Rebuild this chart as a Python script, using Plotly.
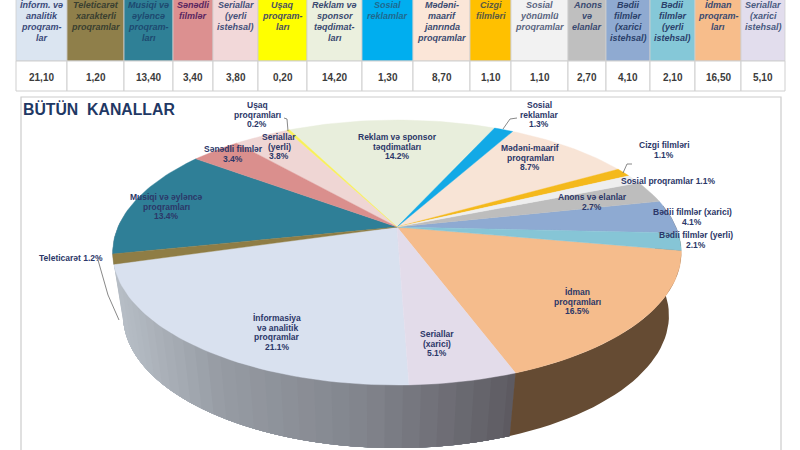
import math
import plotly.graph_objects as go

# ---------- data ----------
values = [21.1, 1.2, 13.4, 3.4, 3.8, 0.2, 14.2, 1.3, 8.7, 1.1, 1.1, 2.7, 4.1, 2.1, 16.5, 5.1]
table_values = ["21,10", "1,20", "13,40", "3,40", "3,80", "0,20", "14,20", "1,30",
                "8,70", "1,10", "1,10", "2,70", "4,10", "2,10", "16,50", "5,10"]
table_headers = [
    ["İnform. və", "analitik", "proqram-", "lar"],
    ["Teleticarət", "xarakterli", "proqramlar"],
    ["Musiqi və", "əyləncə", "proqram-", "ları"],
    ["Sənədli", "filmlər"],
    ["Seriallar", "(yerli", "istehsal)"],
    ["Uşaq", "proqram-", "ları"],
    ["Reklam və", "sponsor", "təqdimat-", "ları"],
    ["Sosial", "reklamlar"],
    ["Mədəni-", "maarif", "janrında", "proqramlar"],
    ["Cizgi", "filmləri"],
    ["Sosial", "yönümlü", "proqramlar"],
    ["Anons", "və", "elanlar"],
    ["Bədii", "filmlər", "(xarici", "istehsal)"],
    ["Bədii", "filmlər", "(yerli", "istehsal)"],
    ["İdman", "proqram-", "ları"],
    ["Seriallar", "(xarici", "istehsal)"],
]
pie_labels = [
    ["İnformasiya", "və analitik", "proqramlar", "21.1%"],
    ["Teleticarət 1.2%"],
    ["Musiqi və əyləncə", "proqramları", "13.4%"],
    ["Sənədli filmlər", "3.4%"],
    ["Seriallar", "(yerli)", "3.8%"],
    ["Uşaq", "proqramları", "0.2%"],
    ["Reklam və sponsor", "təqdimatları", "14.2%"],
    ["Sosial", "reklamlar", "1.3%"],
    ["Mədəni-maarif", "proqramları", "8.7%"],
    ["Cizgi filmləri", "1.1%"],
    ["Sosial proqramlar 1.1%"],
    ["Anons və elanlar", "2.7%"],
    ["Bədii filmlər (xarici)", "4.1%"],
    ["Bədii filmlər (yerli)", "2.1%"],
    ["İdman", "proqramları", "16.5%"],
    ["Seriallar", "(xarici)", "5.1%"],
]

# ---------- styles / layout ----------
colors = ["#d9e1ef", "#8f7d45", "#2f7f97", "#da8f8d", "#efd6d4", "#f7f05a", "#e8eedc", "#12a9e6",
          "#f8e4d6", "#f4b91c", "#eeeeee", "#bdbdbd", "#8eaad2", "#86c5d6", "#f5bc8c", "#e3dcea"]
header_fill = ["#dbe5f1", "#8f7f4a", "#2f8096", "#dc9090", "#f2d8d9", "#ffff00", "#ebf0de", "#00aeef",
               "#fbe6d8", "#ffc000", "#f2f2f2", "#bfbfbf", "#8faad1", "#85c8d8", "#f7bd8b", "#e2dded"]
header_text = ["#3a4a7a", "#3a4030", "#1d4a70", "#5a2560", "#45507a", "#4a5060", "#3a4a70", "#1f6a90",
               "#3a4a70", "#5a5a40", "#5a6580", "#3a4a70", "#2a3f6a", "#2a3f6a", "#3a4a70", "#4a5a80"]
col_edges = [16, 67, 124, 173, 213, 258, 307, 362, 413, 470, 511, 568, 606, 650, 695, 741, 785]
label_xy = [(277, 318), (71, 258), (166, 197), (233, 149), (279, 137), (257, 105), (397, 137), (539, 105),
            (530, 148), (664, 145), (668, 181), (592, 197), (692, 212), (696, 235), (577, 292), (437, 334)]
leaders = [[(98, 260), (108, 295), (119, 320)], [(284, 118), (287, 119), (288, 131)],
           [(517, 118), (510, 119), (503, 129)], [(632, 164), (627, 164), (623, 173)]]

CX, CY = 397.0, 227.0      # pie apex in plot units
A, B, K = 279.0, 127.6, 0.1926  # perspective of the tilted disc
DEPTH, SHRINK = 63.0, 0.96
START = 178.0              # clockwise degrees from the far side


def top(theta):
    t = math.radians(theta)
    d = 1 + K * math.cos(t)
    return CX + A * math.sin(t) / d, CY - B * math.cos(t) / d


def bottom(theta):
    x, y = top(theta)
    return CX + (x - CX) * SHRINK - 1, y + DEPTH


def mix(c1, c2, f):
    return "rgb(" + ",".join(str(round(a + (b - a) * f)) for a, b in zip(c1, c2)) + ")"


fig = go.Figure()
total = sum(values)
edges = [START]
for v in values:
    edges.append(edges[-1] + v * 360 / total)

# side wall: painted from both rims towards the brown/grey join, each strip overlapping the next
brown = "rgb(101,75,51)"
grey_stops = [(0.0, (183, 190, 198)), (0.25, (150, 155, 163)), (0.62, (128, 131, 139)), (1.0, (92, 89, 96))]
brown_end = edges[-2] - 360
STEP = 3.0


def wall(a0, a1, color):
    n = max(2, int((a1 - a0) / 2))
    arc = [a0 + (a1 - a0) * j / n for j in range(n + 1)]
    pts = [top(a) for a in arc] + [bottom(a) for a in reversed(arc)]
    pts.append(pts[0])
    fig.add_trace(go.Scatter(x=[p[0] for p in pts], y=[p[1] for p in pts], mode="lines", fill="toself",
                             fillcolor=color, line=dict(color=color, width=0), hoverinfo="skip",
                             showlegend=False))


th = 278.0
while th > brown_end:
    x_mid = top(th)[0]
    f = max(0.0, min(1.0, (x_mid - 114) / (513 - 114)))
    for (p1, c1), (p2, c2) in zip(grey_stops, grey_stops[1:]):
        if f <= p2:
            col = mix(c1, c2, (f - p1) / (p2 - p1))
            break
    wall(brown_end, th, col)   # every strip reaches the join, so no seams can open
    th -= STEP
wall(80.0, brown_end, brown)

# top face wedges: small ones last so that they stay visible
for i in sorted(range(len(values)), key=lambda k: -values[k]):
    v = values[i]
    a0, a1 = edges[i], edges[i + 1]
    n = max(2, int((a1 - a0) / 1.5))
    pts = [(CX, CY)] + [top(a0 + (a1 - a0) * j / n) for j in range(n + 1)] + [(CX, CY)]
    fig.add_trace(go.Scatter(x=[p[0] for p in pts], y=[p[1] for p in pts], mode="lines", fill="toself",
                             fillcolor=colors[i], line=dict(color=colors[i], width=0.4),
                             name=pie_labels[i][0], hovertemplate=f"{v}%<extra></extra>", showlegend=False))

shapes = []
ann = []


def text(x, y, s, size, color, bold=True, italic=False, anchor="center"):
    if bold:
        s = f"<b>{s}</b>"
    if italic:
        s = f"<i>{s}</i>"
    ann.append(dict(x=x, y=y, xref="x", yref="y", text=s, showarrow=False, xanchor=anchor, yanchor="middle",
                    font=dict(family="Liberation Sans", size=size, color=color), borderpad=0))


# table
BORDER = "#cfcfcf"
for i in range(len(values)):
    x0, x1 = col_edges[i], col_edges[i + 1]
    shapes.append(dict(type="rect", x0=x0, x1=x1, y0=-3, y1=61, xref="x", yref="y", fillcolor=header_fill[i],
                       line=dict(color=BORDER, width=0.8), layer="below"))
    shapes.append(dict(type="rect", x0=x0, x1=x1, y0=61, y1=91, xref="x", yref="y", fillcolor="white",
                       line=dict(color=BORDER, width=1), layer="below"))
    for j, line in enumerate(table_headers[i]):
        text((x0 + x1) / 2, 4.5 + j * 11, line, 9, header_text[i], italic=True)
    text((x0 + x1) / 2, 77, table_values[i], 10, "#3c3c3c")

# chart box
shapes.append(dict(type="rect", x0=21, x1=781, y0=97, y1=456, xref="x", yref="y", fillcolor="white",
                   line=dict(color="#cccccc", width=1.2), layer="below"))
text(21.5, 109, "BÜTÜN  KANALLAR", 15.8, "#1f3864", anchor="left")

# leader lines
for pts in leaders:
    path = "M " + " L ".join(f"{x} {y}" for x, y in pts)
    shapes.append(dict(type="path", path=path, xref="x", yref="y", line=dict(color="#6a6a6a", width=0.8)))

# pie labels
for (x, y), lines in zip(label_xy, pie_labels):
    for j, line in enumerate(lines):
        text(x, y + j * 9.6, line, 8.5, "#2c3768")

fig.update_layout(width=800, height=450, margin=dict(l=0, r=0, t=0, b=0), paper_bgcolor="white",
                  plot_bgcolor="white", showlegend=False, shapes=shapes, annotations=ann,
                  xaxis=dict(range=[0, 800], visible=False, fixedrange=True),
                  yaxis=dict(range=[450, 0], visible=False, fixedrange=True))
fig.write_html("out.html", config=dict(displayModeBar=False),
               post_script="document.body.style.margin='0';document.body.style.overflow='hidden';")
